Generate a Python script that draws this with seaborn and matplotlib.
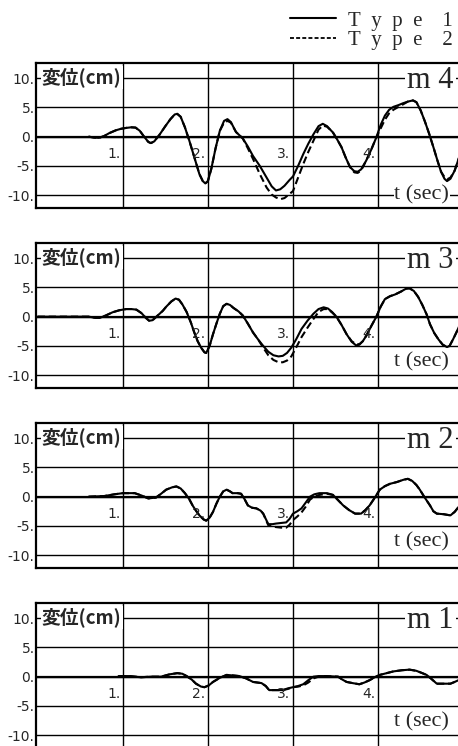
import numpy as np
import pandas as pd
import matplotlib
matplotlib.use('Agg')
import matplotlib.pyplot as plt
from matplotlib.lines import Line2D
import seaborn as sns

sns.set_theme(style='white')
plt.rcParams['font.family'] = ['DejaVu Sans', 'Noto Sans CJK JP']

# displacement histories (t in sec, disp in cm)
t_m4 = [0.60, 0.66, 0.72, 0.78, 0.84, 0.92, 0.98, 1.04, 1.10, 1.15, 1.20, 1.25, 1.30, 1.33, 1.37,
        1.43, 1.50, 1.56, 1.61, 1.64, 1.68, 1.73, 1.78, 1.84, 1.90, 1.94, 1.97, 2.00, 2.04, 2.09,
        2.14, 2.19, 2.23, 2.27, 2.33, 2.41, 2.47, 2.53, 2.61, 2.69, 2.75, 2.80, 2.85, 2.90, 2.96,
        3.00, 3.06, 3.12, 3.18, 3.24, 3.30, 3.35, 3.40, 3.47, 3.52, 3.57, 3.62, 3.67, 3.72, 3.76,
        3.80, 3.86, 3.92, 3.98, 4.03, 4.08, 4.13, 4.18, 4.24, 4.29, 4.35, 4.41, 4.45, 4.50, 4.55,
        4.60, 4.65, 4.70, 4.74, 4.78, 4.81, 4.85, 4.90, 4.96]
m4_type1 = [0.0, -0.15, -0.2, 0.1, 0.6, 1.1, 1.35, 1.5, 1.6, 1.55, 1.0, 0.0, -0.9, -1.1, -0.8,
            0.3, 1.8, 3.0, 3.8, 3.9, 3.4, 1.6, -0.6, -3.5, -6.4, -7.6, -8.0, -7.6, -5.5, -2.0,
            1.0, 2.7, 3.0, 2.5, 0.8, -0.3, -1.7, -3.3, -5.0, -7.0, -8.5, -9.2, -9.0, -8.4, -7.4,
            -6.8, -5.0, -3.0, -1.2, 0.4, 1.8, 2.2, 1.8, 0.7, -0.5, -1.8, -3.6, -5.2, -5.9, -6.0,
            -5.6, -4.1, -2.2, -0.1, 2.0, 3.6, 4.6, 5.1, 5.4, 5.7, 6.0, 6.2, 5.9, 4.5, 2.6,
            0.5, -1.8, -4.2, -6.0, -7.2, -7.6, -7.2, -5.8, -3.2]
m4_type2 = [0.0, -0.15, -0.2, 0.1, 0.6, 1.1, 1.35, 1.5, 1.6, 1.55, 1.0, 0.0, -0.9, -1.1, -0.8,
            0.3, 1.8, 3.0, 3.8, 3.9, 3.4, 1.6, -0.6, -3.5, -6.4, -7.6, -8.0, -7.6, -5.5, -2.0,
            1.0, 2.4, 2.7, 2.4, 0.8, -0.3, -2.0, -3.8, -6.4, -8.7, -9.9, -10.4, -10.7, -10.5, -9.8,
            -9.3, -7.0, -4.7, -2.6, -0.7, 1.2, 1.9, 1.7, 0.7, -0.5, -1.8, -3.6, -5.2, -6.1, -6.2,
            -5.8, -4.1, -2.2, -0.1, 1.4, 2.9, 4.0, 4.6, 5.1, 5.5, 6.0, 6.2, 5.9, 4.5, 2.6,
            0.5, -1.8, -4.2, -6.0, -6.9, -7.3, -7.0, -5.8, -3.2]

t_m3 = [0.00, 0.60, 0.68, 0.73, 0.80, 0.88, 0.96, 1.04, 1.10, 1.16, 1.22, 1.27, 1.31, 1.35, 1.41,
        1.47, 1.51, 1.57, 1.62, 1.66, 1.70, 1.75, 1.80, 1.84, 1.88, 1.92, 1.96, 1.98, 2.02, 2.06,
        2.10, 2.14, 2.18, 2.22, 2.26, 2.30, 2.36, 2.41, 2.47, 2.53, 2.59, 2.65, 2.71, 2.77, 2.83,
        2.88, 2.93, 2.98, 3.04, 3.10, 3.17, 3.24, 3.30, 3.36, 3.41, 3.46, 3.51, 3.57, 3.63, 3.69,
        3.74, 3.78, 3.82, 3.86, 3.92, 3.98, 4.03, 4.08, 4.14, 4.20, 4.27, 4.33, 4.37, 4.42, 4.47,
        4.52, 4.57, 4.61, 4.66, 4.71, 4.76, 4.81, 4.84, 4.88, 4.92, 4.96]
m3_type1 = [0.0, 0.0, -0.2, -0.2, 0.2, 0.75, 1.1, 1.3, 1.3, 1.2, 0.6, -0.2, -0.7, -0.6, 0.2,
            1.0, 1.7, 2.6, 3.1, 2.9, 2.1, 0.8, -1.0, -2.7, -4.2, -5.3, -6.1, -6.2, -5.0, -3.0,
            -1.2, 0.5, 1.8, 2.2, 2.0, 1.5, 0.9, 0.2, -1.2, -2.7, -3.9, -5.0, -6.0, -6.6, -6.8,
            -6.7, -6.2, -5.3, -3.8, -2.1, -0.7, 0.5, 1.3, 1.6, 1.4, 0.8, 0.0, -1.4, -3.0, -4.3,
            -4.9, -4.8, -4.2, -3.3, -1.6, 0.0, 1.7, 3.0, 3.5, 3.8, 4.3, 4.8, 4.85, 4.4, 3.4,
            2.0, 0.4, -1.3, -2.8, -3.9, -4.8, -5.2, -5.0, -3.9, -2.7, -1.4]
m3_type2 = [0.0, 0.0, -0.2, -0.2, 0.2, 0.75, 1.1, 1.3, 1.3, 1.2, 0.6, -0.2, -0.7, -0.6, 0.2,
            1.0, 1.7, 2.6, 3.1, 2.9, 2.1, 0.8, -1.0, -2.7, -4.2, -5.3, -6.1, -6.2, -5.0, -3.0,
            -1.2, 0.5, 1.8, 2.2, 2.0, 1.5, 0.9, 0.2, -1.2, -2.7, -3.9, -5.3, -6.6, -7.4, -7.8,
            -7.8, -7.5, -6.8, -5.2, -3.5, -1.9, -0.4, 0.8, 1.3, 1.3, 0.7, 0.0, -1.4, -3.0, -4.2,
            -4.7, -4.7, -4.2, -3.3, -1.6, 0.0, 1.7, 3.0, 3.5, 3.8, 4.3, 4.8, 4.85, 4.4, 3.4,
            2.0, 0.4, -1.3, -2.8, -3.9, -4.8, -5.2, -5.0, -3.9, -2.7, -1.4]

t_m2 = [0.60, 0.78, 0.90, 1.00, 1.14, 1.22, 1.30, 1.39, 1.45, 1.51, 1.58, 1.63, 1.68, 1.73, 1.78,
        1.82, 1.86, 1.90, 1.95, 1.98, 2.02, 2.06, 2.10, 2.14, 2.18, 2.22, 2.26, 2.29, 2.35, 2.39,
        2.43, 2.47, 2.52, 2.57, 2.62, 2.65, 2.71, 2.76, 2.80, 2.86, 2.92, 2.96, 3.00, 3.05, 3.10,
        3.15, 3.20, 3.25, 3.31, 3.40, 3.47, 3.53, 3.59, 3.66, 3.73, 3.80, 3.85, 3.90, 3.96, 4.02,
        4.08, 4.14, 4.22, 4.30, 4.35, 4.40, 4.45, 4.49, 4.55, 4.61, 4.65, 4.69, 4.77, 4.85, 4.90,
        4.96]
m2_type1 = [0.0, 0.1, 0.4, 0.6, 0.6, 0.2, -0.3, -0.15, 0.5, 1.2, 1.6, 1.75, 1.4, 0.6, -0.4,
            -1.5, -2.4, -3.2, -3.9, -4.1, -3.6, -2.6, -1.2, 0.0, 0.9, 1.2, 0.9, 0.6, 0.6, 0.5,
            -0.4, -1.5, -1.9, -2.0, -2.4, -2.9, -4.7, -4.7, -4.6, -4.5, -4.4, -3.8, -2.9, -2.5, -2.0,
            -1.0, 0.0, 0.4, 0.6, 0.6, 0.3, -0.6, -1.5, -2.3, -2.9, -2.9, -2.3, -1.5, -0.2, 1.2,
            1.8, 2.2, 2.5, 2.9, 3.05, 2.7, 2.0, 1.2, -0.2, -1.5, -2.5, -2.9, -3.0, -3.2, -2.6,
            -1.5]
m2_type2 = [0.0, 0.1, 0.4, 0.6, 0.6, 0.2, -0.3, -0.15, 0.5, 1.2, 1.6, 1.75, 1.4, 0.6, -0.4,
            -1.5, -2.4, -3.2, -3.9, -4.1, -3.6, -2.6, -1.2, 0.0, 0.9, 1.2, 0.9, 0.6, 0.6, 0.5,
            -0.4, -1.5, -1.9, -2.0, -2.4, -2.9, -4.9, -5.1, -5.2, -5.3, -5.3, -4.8, -4.0, -3.4, -2.7,
            -1.7, -0.5, 0.0, 0.3, 0.5, 0.3, -0.6, -1.5, -2.3, -2.9, -2.9, -2.3, -1.5, -0.2, 1.2,
            1.8, 2.2, 2.5, 2.9, 3.05, 2.7, 2.0, 1.2, -0.2, -1.5, -2.5, -2.9, -3.0, -3.2, -2.6,
            -1.5]

t_m1 = [0.95, 1.08, 1.21, 1.33, 1.45, 1.55, 1.64, 1.70, 1.75, 1.81, 1.86, 1.92, 1.96, 2.01, 2.06,
        2.14, 2.22, 2.30, 2.37, 2.45, 2.53, 2.63, 2.68, 2.72, 2.80, 2.88, 2.94, 3.00, 3.06, 3.12,
        3.18, 3.24, 3.30, 3.39, 3.53, 3.58, 3.63, 3.70, 3.78, 3.84, 3.90, 3.96, 4.02, 4.10, 4.18,
        4.28, 4.37, 4.45, 4.52, 4.57, 4.62, 4.69, 4.77, 4.85, 4.90, 4.96]
m1_type1 = [0.1, 0.1, -0.1, 0.0, 0.0, 0.4, 0.6, 0.5, 0.1, -0.5, -1.2, -1.7, -1.8, -1.5, -0.9,
            -0.2, 0.3, 0.2, 0.1, -0.3, -0.9, -1.1, -1.6, -2.3, -2.3, -2.3, -2.0, -1.8, -1.6, -1.3,
            -0.6, 0.0, 0.1, 0.1, 0.0, -0.5, -0.9, -1.1, -1.3, -1.0, -0.6, -0.1, 0.3, 0.6, 0.9,
            1.1, 1.2, 1.0, 0.6, 0.3, -0.3, -1.2, -1.2, -1.2, -0.9, -0.5]
m1_type2 = [0.1, 0.1, -0.1, 0.0, 0.0, 0.4, 0.6, 0.5, 0.1, -0.5, -1.2, -1.7, -1.8, -1.5, -0.9,
            -0.2, 0.3, 0.2, 0.1, -0.3, -0.9, -1.1, -1.6, -2.3, -2.3, -2.3, -2.1, -1.8, -1.7, -1.5,
            -1.0, -0.3, 0.0, 0.1, 0.0, -0.5, -0.9, -1.1, -1.3, -1.0, -0.6, -0.1, 0.3, 0.6, 0.9,
            1.1, 1.2, 1.0, 0.6, 0.3, -0.3, -1.2, -1.2, -1.2, -0.9, -0.5]

masses = ['m4', 'm3', 'm2', 'm1']
mass_titles = ['m 4', 'm 3', 'm 2', 'm 1']
y_ticks = [-10, -5, 0, 5, 10]
y_labels = ['-10.', '-5.', '0.', '5.', '10.']
x_marks = [1, 2, 3, 4]
x_labels = ['1.', '2.', '3.', '4.']
legend_labels = ['T\u2002y\u2002p\u2002e\u2002\u2009 1', 'T\u2002y\u2002p\u2002e\u2002\u2009 2']

frames = []
for name, t, a, b in [('m4', t_m4, m4_type1, m4_type2), ('m3', t_m3, m3_type1, m3_type2),
                      ('m2', t_m2, m2_type1, m2_type2), ('m1', t_m1, m1_type1, m1_type2)]:
    frames.append(pd.DataFrame({'t': t, 'disp': b, 'type': 'Type 2', 'mass': name}))
    frames.append(pd.DataFrame({'t': t, 'disp': a, 'type': 'Type 1', 'mass': name}))
df = pd.concat(frames, ignore_index=True)

W, H = 458, 746
fig = plt.figure(figsize=(W / 100, H / 100), dpi=100)
serif = ['Liberation Serif', 'DejaVu Serif']

for i, name in enumerate(masses):
    top = 63 + 180 * i
    ax = fig.add_axes([36 / W, 1 - (top + 145) / H, 434 / W, 145 / H])
    sub = df[df['mass'] == name]
    sns.lineplot(data=sub, x='t', y='disp', style='type', style_order=['Type 2', 'Type 1'],
                 dashes=[(3.5, 1.8), ''], color='black', lw=1.5, estimator=None,
                 sort=False, legend=False, ax=ax, zorder=3)
    ax.set_xlim(-0.02, 5.08)
    ax.set_ylim(-12.2, 12.6)
    ax.set_xticks(x_marks)
    ax.set_xticklabels([])
    ax.set_yticks(y_ticks)
    ax.set_yticklabels(y_labels, fontsize=10)
    ax.tick_params(length=0, pad=1)
    ax.grid(True, color='black', lw=1.0)
    ax.axhline(0, color='black', lw=1.6, zorder=1)
    ax.set_xlabel('')
    ax.set_ylabel('')
    for s in ax.spines.values():
        s.set_color('black')
        s.set_linewidth(1.6)
        s.set_zorder(6)
    for xm, xl in zip(x_marks, x_labels):
        ax.text(xm - 0.03, -2.9, xl, ha='right', va='center', fontsize=10, zorder=4)
    ax.text(0.05, 10.1, '変位(cm)', ha='left', va='center', fontsize=13.5, fontweight='bold',
            family=['Noto Sans CJK JP', 'DejaVu Sans'], zorder=5,
            bbox=dict(facecolor='white', edgecolor='none', pad=1.0))
    ax.text(4.34, 9.6, mass_titles[i], ha='left', va='center', fontsize=22,
            family=serif, zorder=5,
            bbox=dict(facecolor='white', edgecolor='none', pad=1.5))
    ty = -10.0 if i == 0 else -7.8
    ax.text(4.19, ty, 't (sec)', ha='left', va='center', fontsize=16,
            family=serif, zorder=5,
            bbox=dict(facecolor='white', edgecolor='none', pad=0.5))

handles = [Line2D([], [], color='black', lw=1.5),
           Line2D([], [], color='black', lw=1.3, dashes=(2.2, 1.2))]
fig.legend(handles, legend_labels, loc='upper left',
           bbox_to_anchor=(290 / W, 1 - 11 / H), frameon=False, handlelength=2.2,
           handletextpad=0.6, labelspacing=0.0, borderaxespad=0, borderpad=0,
           prop={'family': serif, 'size': 15})

fig.savefig('out.png', dpi=100, facecolor='white')
